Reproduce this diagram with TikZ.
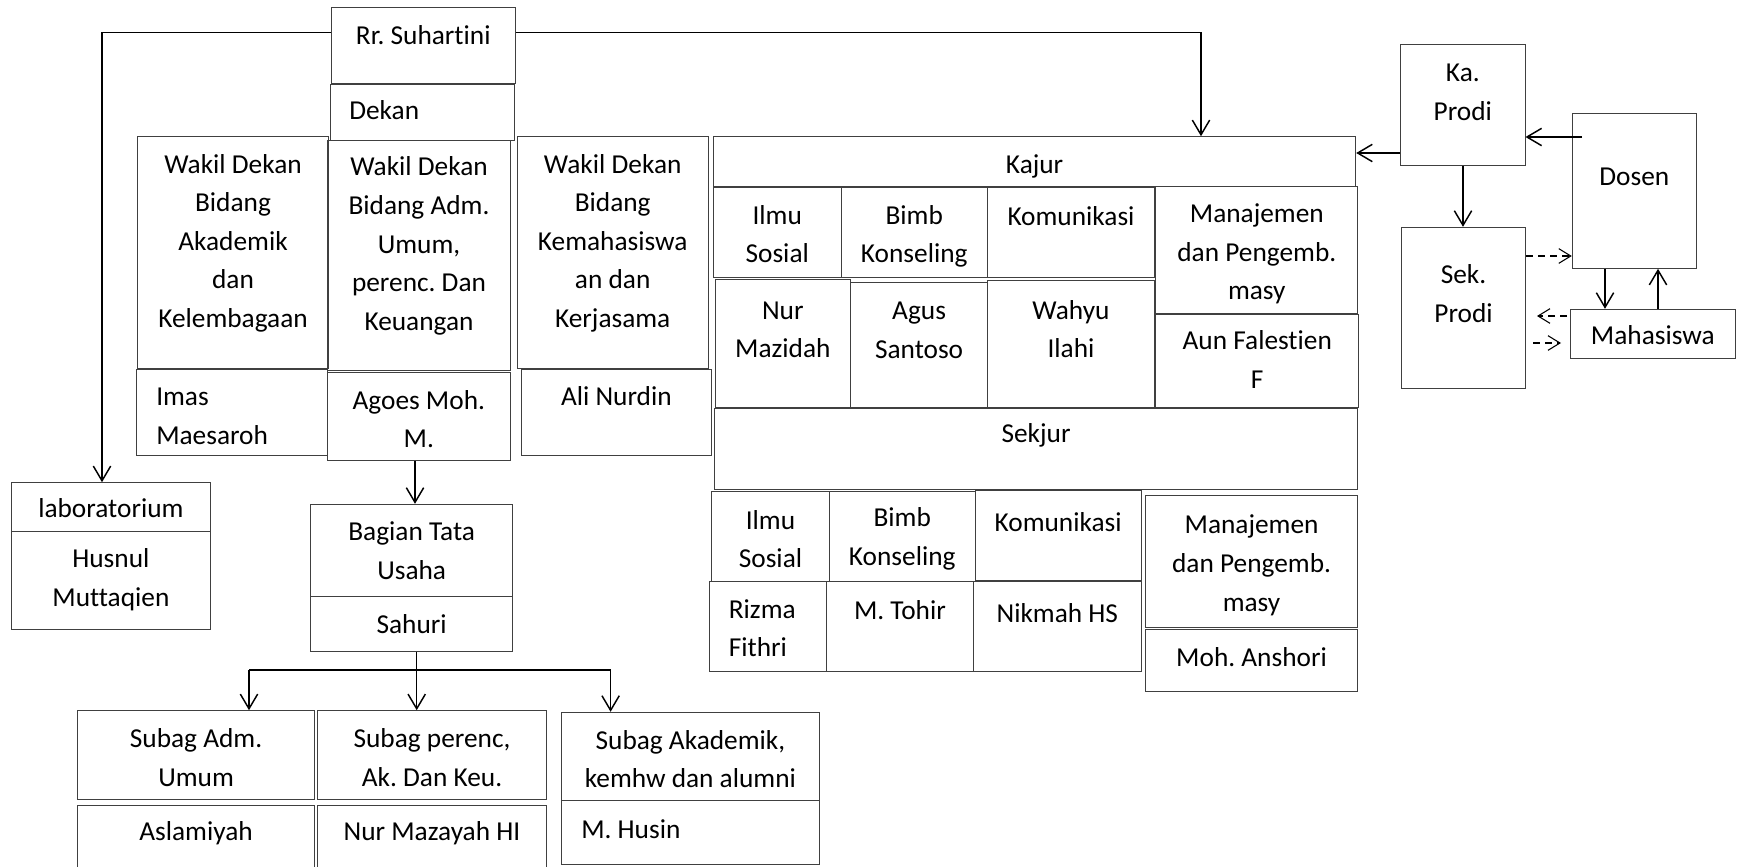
\documentclass[tikz,border=0pt]{standalone}
\usepackage{fontspec}
\setmainfont{Carlito}[Ligatures=NoCommon]
\usetikzlibrary{arrows.meta,fit}
\tikzset{
  box/.style={draw=black!75, line width=0.75pt, inner sep=0pt, rectangle},
  txt/.style={inner sep=0pt, align=center, font=\fontsize{20.5}{28.9}\selectfont\frenchspacing, text=black},
  conn/.style={draw=black, line width=1.1pt},
  arr/.style={conn, -{Straight Barb[length=11pt,width=13pt]}},
  darr/.style={draw=black, line width=0.8pt, dash pattern=on 5pt off 4pt, -{Straight Barb[length=9pt,width=11pt]}}
}
\newcommand{\bx}[7]{%
  \node[box, fit={(#2,#3) (#4,#5)}] (#1) {};
  \node[txt, anchor=north] (#1t) at ({(#2+#4)/2},{#6-19}) {\strut#7};
}
\newcommand{\bxl}[8]{%
  \node[box, fit={(#2,#3) (#4,#5)}] (#1) {};
  \node[txt, align=left, anchor=north west] (#1t) at (#7,{#6-19}) {\strut#8};
}
\begin{document}
\begin{tikzpicture}[x=0.75pt,y=-0.75pt]
\path[use as bounding box] (0,0) rectangle (1743,867);
\clip (0,0) rectangle (1743,867);
% left part
\bx{rr}{331.5}{8}{515}{84}{36.7}{Rr. Suhartini}
\bxl{dekan}{330}{84.7}{514.5}{140}{111.7}{349}{Dekan}
\bx{wd1}{137.7}{136.7}{328.3}{368.3}{165}{Wakil Dekan\\Bidang\\Akademik\\dan\\Kelembagaan}
\bx{wd2}{327.4}{140}{510.6}{370.7}{167.7}{Wakil Dekan\\Bidang Adm.\\Umum,\\perenc. Dan\\Keuangan}
\bx{wd3}{517.4}{136}{708}{368.3}{165}{Wakil Dekan\\Bidang\\Kemahasiswa\\an dan\\Kerjasama}
\bxl{imas}{136.4}{369}{327}{455.7}{397.7}{156}{Imas\\Maesaroh}
\bx{agoes}{327}{372.7}{510.6}{460}{401}{Agoes Moh.\\M.}
\bx{ali}{521}{369}{711.7}{455.7}{397.7}{Ali Nurdin}
\bx{lab}{11.8}{482.7}{210}{531.7}{509.3}{laboratorium}
\bx{husnul}{11.8}{531.7}{210}{629.3}{559.3}{Husnul\\Muttaqien}
\bx{btu}{310.7}{504.3}{512.6}{596}{532.7}{Bagian Tata\\Usaha}
\bx{sahuri}{310.7}{596}{512.6}{651}{625}{Sahuri}
\bx{sadm}{77.7}{710.7}{314.4}{799}{739.3}{Subag Adm.\\Umum}
\bx{sper}{317.6}{710.7}{546.3}{799}{739.3}{Subag perenc,\\Ak. Dan Keu.}
\bx{sak}{561.3}{712.3}{819.5}{800.7}{741}{Subag Akademik,\\kemhw dan alumni}
\bx{aslam}{77.7}{805}{314.4}{880}{832.7}{Aslamiyah}
\bx{nurmaz}{317.6}{805}{546.3}{880}{832.7}{Nur Mazayah HI}
\bxl{husin}{561.3}{800.7}{819.5}{864.3}{830}{581}{M. Husin}
% middle-right upper
\bx{kajur}{713.5}{136.7}{1355.7}{186.7}{165}{Kajur}
\bx{isa}{713.5}{187.7}{841}{277.3}{216}{Ilmu\\Sosial}
\bx{bka}{841}{187.7}{987.5}{277.3}{216}{Bimb\\Konseling}
\bx{koma}{987.5}{187.7}{1154.5}{277.3}{217.7}{Komunikasi}
\bx{mpa}{1155.8}{186.7}{1357.8}{313.3}{214.3}{Manajemen\\dan Pengemb.\\masy}
\bx{nur}{715}{279.3}{850.7}{407.3}{311}{Nur\\Mazidah}
\bx{agus}{850.7}{282.3}{987.5}{407.3}{311.5}{Agus\\Santoso}
\bx{wahyu}{987.5}{280.7}{1154.5}{407.3}{311}{Wahyu\\Ilahi}
\bx{aun}{1155.8}{314.7}{1358.7}{407.3}{341.7}{Aun Falestien\\F}
\bx{sekjur}{714.7}{408.3}{1357.4}{489.3}{434}{Sekjur}
% middle-right lower
\bx{isb}{711.8}{491.7}{829.2}{581}{521}{Ilmu\\Sosial}
\bx{bkb}{829.2}{491.7}{975.3}{581}{518.3}{Bimb\\Konseling}
\bx{komb}{975.3}{490.7}{1141}{580}{523.3}{Komunikasi}
\bx{mpb}{1145.3}{495.7}{1357.8}{627.7}{525.7}{Manajemen\\dan Pengemb.\\masy}
\bxl{rizma}{709.3}{581.7}{826.3}{671.7}{610}{728.6}{Rizma\\Fithri}
\bx{tohir}{826.3}{581.7}{973.6}{671.7}{611}{M. Tohir}
\bx{nikmah}{973.6}{581.7}{1141}{671.7}{614.3}{Nikmah HS}
\bx{anshori}{1145.3}{629.3}{1357.8}{691.7}{658.3}{Moh. Anshori}
% far right
\bx{kaprodi}{1400.7}{45}{1525}{165}{73.3}{Ka.\\Prodi}
\bx{dosen}{1572.3}{113.3}{1696.3}{268.3}{177.7}{Dosen}
\bx{sekprodi}{1401.3}{227.3}{1525.7}{388.3}{275.7}{Sek.\\Prodi}
\bx{mhs}{1570.7}{309.3}{1735}{358.3}{336}{Mahasiswa}
% connectors
\coordinate (lc) at (102,32.7);
\coordinate (rc) at (1201,32.7);
\draw[arr] (rr.west |- lc) -| (lab.north -| lc);
\draw[arr] (rr.east |- rc) -| (kajur.north -| rc);
\coordinate (ag) at (415,0);
\draw[arr] (agoes.south -| ag) -- (btu.north -| ag);
\coordinate (sx) at (416.7,670);
\coordinate (hl) at (249,670);
\coordinate (hr) at (610.6,670);
\draw[arr] (sahuri.south -| sx) -- (sper.north -| sx);
\draw[conn] (hl) -- (hr);
\draw[arr] (hl) -- (hl |- sadm.north);
\draw[arr] (hr) -- (hr |- sak.north);
\coordinate (kp) at (0,153);
\draw[arr] (kaprodi.west |- kp) -- (kajur.east |- kp);
\coordinate (dk) at (1582,137);
\draw[arr] (dk) -- (kaprodi.east |- dk);
\coordinate (ks) at (1463,0);
\draw[arr] (kaprodi.south -| ks) -- (sekprodi.north -| ks);
\coordinate (sd) at (0,256);
\draw[darr] (sekprodi.east |- sd) -- (dosen.west |- sd);
\coordinate (dm) at (1605,0);
\draw[arr] (dosen.south -| dm) -- (mhs.north -| dm);
\coordinate (md) at (1658,0);
\draw[arr] (mhs.north -| md) -- (dosen.south -| md);
\coordinate (ms1) at (1567,316);
\coordinate (ms2) at (1537,316);
\draw[darr] (ms1) -- (ms2);
\coordinate (sm1) at (1533,343);
\coordinate (sm2) at (1561,343);
\draw[darr] (sm1) -- (sm2);
\end{tikzpicture}
\end{document}
